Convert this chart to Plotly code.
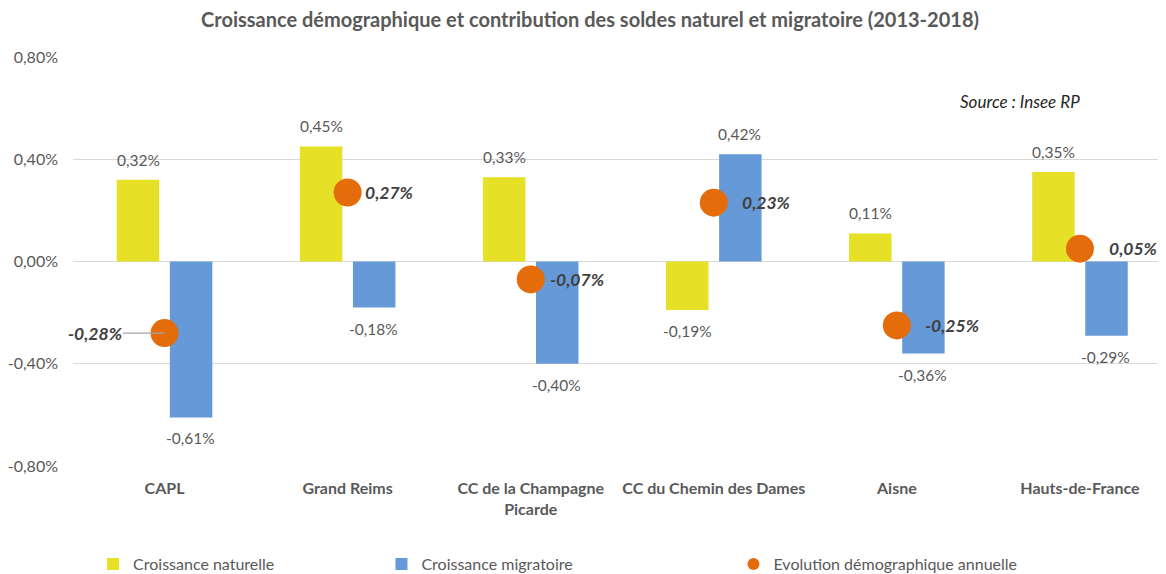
import plotly.graph_objects as go

# ---- data ----
categories = ["CAPL", "Grand Reims", "CC de la Champagne<br>Picarde",
              "CC du Chemin des Dames", "Aisne", "Hauts-de-France"]
croissance_naturelle = [0.32, 0.45, 0.33, -0.19, 0.11, 0.35]
croissance_migratoire = [-0.61, -0.18, -0.40, 0.42, -0.36, -0.29]
evolution_annuelle = [-0.28, 0.27, -0.07, 0.23, -0.25, 0.05]
y_tick_values = [-0.8, -0.4, 0.0, 0.4, 0.8]
y_tick_labels = ["-0,80%", "-0,40%", "0,00%", "0,40%", "0,80%"]

# ---- styles ----
FONT = "Lato"
GREY = "#595959"
YELLOW = "#E6E027"
BLUE = "#6699D8"
ORANGE = "#E46C0A"
BAR_OFFSET_PX = 26
dot_label_dx = [None, 15, 17, 26, 26, 27]  # first one uses a leader line to the left
FIG_W, FIG_H = 1158, 566  # page body adds an 8px margin on top/left


def fmt(v):
    return f"{v:.2f}".replace(".", ",") + "%"


fig = go.Figure()
fig.add_trace(go.Bar(x=categories, y=croissance_naturelle, name="Croissance naturelle",
                     marker=dict(color=YELLOW, line=dict(width=0)), legend="legend"))
fig.add_trace(go.Bar(x=categories, y=croissance_migratoire, name="Croissance migratoire",
                     marker=dict(color=BLUE, line=dict(width=0)), legend="legend2"))
fig.add_trace(go.Scatter(x=categories, y=evolution_annuelle, name="Evolution démographique annuelle",
                         mode="markers", marker=dict(color=ORANGE, size=28), legend="legend3"))

annotations = []
# bar value labels
for series, sign in ((croissance_naturelle, -1), (croissance_migratoire, 1)):
    for c, v in zip(categories, series):
        annotations.append(dict(x=c, y=v, text=fmt(v), showarrow=False,
                                xshift=sign * BAR_OFFSET_PX, yshift=20 if v >= 0 else -21,
                                font=dict(family=FONT, size=15.5, color=GREY)))
# dot labels
for i, (c, v) in enumerate(zip(categories, evolution_annuelle)):
    label = "<b><i>" + fmt(v) + "</i></b>"
    if dot_label_dx[i] is None:
        annotations.append(dict(x=c, y=v, text=label, showarrow=True, arrowhead=0,
                                arrowcolor="#A6A6A6", arrowwidth=1.2, ax=-70, ay=0,
                                standoff=0, font=dict(family=FONT, size=17.5, color="#404040")))
    else:
        annotations.append(dict(x=c, y=v, text=label, showarrow=False, xanchor="left",
                                xshift=dot_label_dx[i],
                                font=dict(family=FONT, size=17.5, color="#404040")))
# source
annotations.append(dict(xref="paper", yref="paper", x=0.923, y=0.89, xanchor="right",
                        yanchor="middle",
                        text="<i>Source : Insee RP</i>", showarrow=False,
                        font=dict(family=FONT, size=17, color="#262626", weight="normal")))

legend_common = dict(orientation="h", xref="container", yref="paper", yanchor="middle",
                     y=-0.24, font=dict(family=FONT, size=16, color=GREY),
                     bgcolor="rgba(0,0,0,0)", itemwidth=30, itemsizing="constant")

fig.update_layout(
    width=FIG_W, height=FIG_H,
    margin=dict(l=65, r=0, t=49, b=108, autoexpand=False),
    paper_bgcolor="white", plot_bgcolor="white",
    title=dict(text="<b>Croissance démographique et contribution des soldes naturel et migratoire (2013-2018)</b>",
               x=0.5026, xanchor="center", y=0.979, yanchor="middle",
               font=dict(family=FONT, size=20, color=GREY)),
    barmode="group", bargap=0.42, bargroupgap=0.2,
    xaxis=dict(range=[-0.5, 5.47], showgrid=False, showline=False, zeroline=False, ticks="",
               automargin=False,
               tickfont=dict(family=FONT, size=16, color=GREY, weight="bold"), ticklabelstandoff=11),
    yaxis=dict(range=[-0.8, 0.8], tickvals=y_tick_values, ticktext=y_tick_labels,
               showgrid=True, gridcolor="#D9D9D9", gridwidth=1, automargin=False,
               zeroline=True, zerolinecolor="#D9D9D9", zerolinewidth=1,
               showline=False, ticks="", ticklabelstandoff=14,
               tickfont=dict(family=FONT, size=16, color=GREY)),
    showlegend=True,
    legend=dict(x=0.0735, **legend_common),
    legend2=dict(x=0.3225, **legend_common),
    legend3=dict(x=0.6265, **legend_common),
    annotations=annotations,
)

fig.write_html("out.html")
